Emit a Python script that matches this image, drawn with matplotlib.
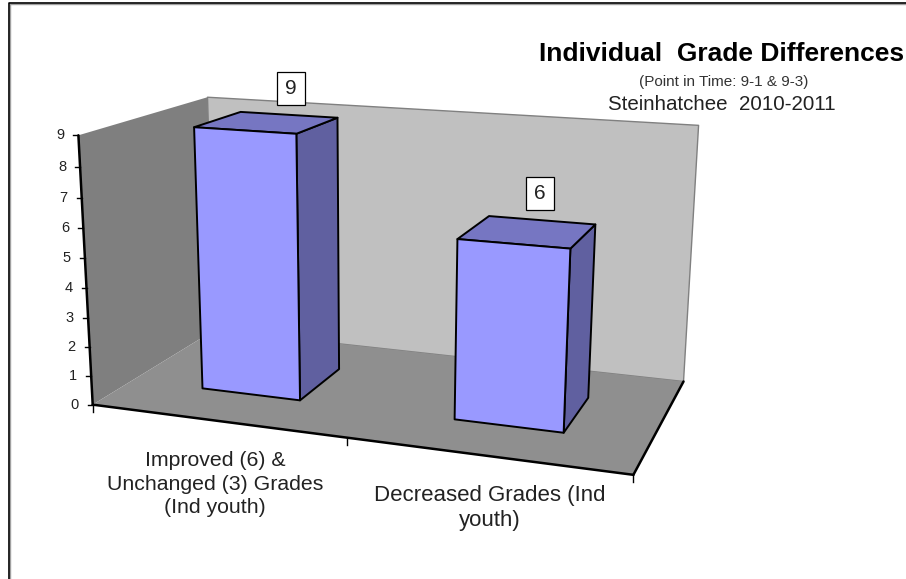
import numpy as np
import matplotlib
matplotlib.use("Agg")
import matplotlib.pyplot as plt
from matplotlib.patches import Polygon, Rectangle

plt.rcParams['font.family'] = ['Liberation Sans', 'DejaVu Sans']

# --- data ---
categories = ["Improved (6) &\nUnchanged (3) Grades\n(Ind youth)", "Decreased Grades (Ind\nyouth)"]
values = [9, 6]
y_ticks = list(range(0, 10))
title = "Individual  Grade Differences"
subtitle = "(Point in Time: 9-1 & 9-3)"
subtitle2 = "Steinhatchee  2010-2011"

# --- 3D frame: box corners (category, depth, value) and where they fall on the canvas ---
W, H = 906, 579
box_model = np.array([[0,0,0],[2,0,0],[0,1,0],[2,1,0],[0,0,9],[2,0,9],[0,1,9],[2,1,9]], float)
box_screen = np.array([[93,404],[633,475],[214,331],[684,381],[78,134],[649,176],[208,98],[698,124]], float)

A = []
for (X, Z, V), (u, v) in zip(box_model, box_screen):
    A.append([X, Z, V, 1, 0, 0, 0, 0, -u*X, -u*Z, -u*V, -u])
    A.append([0, 0, 0, 0, X, Z, V, 1, -v*X, -v*Z, -v*V, -v])
P = np.linalg.svd(np.array(A))[2][-1].reshape(3, 4)

def proj(X, Z, V):
    h = P @ np.array([X, Z, V, 1.0])
    return h[0]/h[2], h[1]/h[2]

fig = plt.figure(figsize=(W/100, H/100), dpi=100)
ax = fig.add_axes([0, 0, 1, 1])
ax.set_xlim(0, W); ax.set_ylim(H, 0); ax.axis('off')

# chart-area frame (only top and left are visible)
ax.plot([9.5, 9.5, W], [H, 3.5, 3.5], color='#a0a0a0', lw=1, zorder=0)
ax.plot([8.5, 8.5, W], [H, 2.5, 2.5], color='black', lw=1.2, zorder=0)

def face(pts, fc, ec='none', lw=0, z=1):
    ax.add_patch(Polygon([proj(*p) for p in pts], closed=True, fc=fc, ec=ec, lw=lw, zorder=z, joinstyle='round'))

def seg(a, b, lw=1.8, c='black', z=3):
    pa, pb = proj(*a), proj(*b)
    ax.plot([pa[0], pb[0]], [pa[1], pb[1]], color=c, lw=lw, zorder=z, solid_capstyle='round')

VM = max(y_ticks)
face([(0,1,0),(2,1,0),(2,1,VM),(0,1,VM)], '#c0c0c0', ec='#808080', lw=1)
face([(0,0,0),(0,1,0),(0,1,VM),(0,0,VM)], '#7f7f7f')
face([(0,0,0),(2,0,0),(2,1,0),(0,1,0)], '#8f8f8f')

# axes
seg((0,0,0),(0,0,VM))
seg((0,0,0),(2,0,0))
seg((2,0,0),(2,1,0))
for t in y_ticks:
    x, y = proj(0, 0, t)
    ax.plot([x-5, x], [y, y], color='black', lw=1, zorder=3)
    ax.text(x-14, y, str(t), ha='right', va='center', fontsize=10.5, color='#222222')
for c in [0, 1, 2]:
    x, y = proj(c, 0, 0)
    ax.plot([x, x], [y, y+7], color='black', lw=1, zorder=3)

# bars
BW, D0, D1 = 0.2, 0.30, 0.69
label_offsets = [(23.5, -34), (12, -38)]
for i, val in enumerate(values):
    c = i + 0.495
    x0, x1 = c-BW, c+BW
    z = 4 + i
    face([(x1,D0,0),(x1,D1,0),(x1,D1,val),(x1,D0,val)], '#6060a0', ec='black', lw=1.4, z=z)
    face([(x0,D0,val),(x1,D0,val),(x1,D1,val),(x0,D1,val)], '#7676c2', ec='black', lw=1.4, z=z)
    face([(x0,D0,0),(x1,D0,0),(x1,D0,val),(x0,D0,val)], '#9999ff', ec='black', lw=1.4, z=z)
    lx, ly = proj(c, (D0+D1)/2, val)
    lx += label_offsets[i][0]; ly += label_offsets[i][1]
    ax.add_patch(Rectangle((lx-14, ly-16.5), 28, 33, fc='white', ec='black', lw=0.9, zorder=8))
    ax.text(lx, ly, str(val), ha='center', va='center', fontsize=15, color='#222222', zorder=9)

ax.text(215, 484, categories[0], ha='center', va='center', fontsize=15.3, color='#222222', linespacing=1.3)
ax.text(490, 508, categories[1], ha='center', va='center', fontsize=16, color='#222222', linespacing=1.25)

ax.text(722, 54, title, ha='center', va='center', fontsize=19, fontweight='bold', color='black')
ax.text(724, 82, subtitle, ha='center', va='center', fontsize=11, color='#333333')
ax.text(722, 105, subtitle2, ha='center', va='center', fontsize=14.8, color='#222222')

fig.savefig('out.png', dpi=100)
